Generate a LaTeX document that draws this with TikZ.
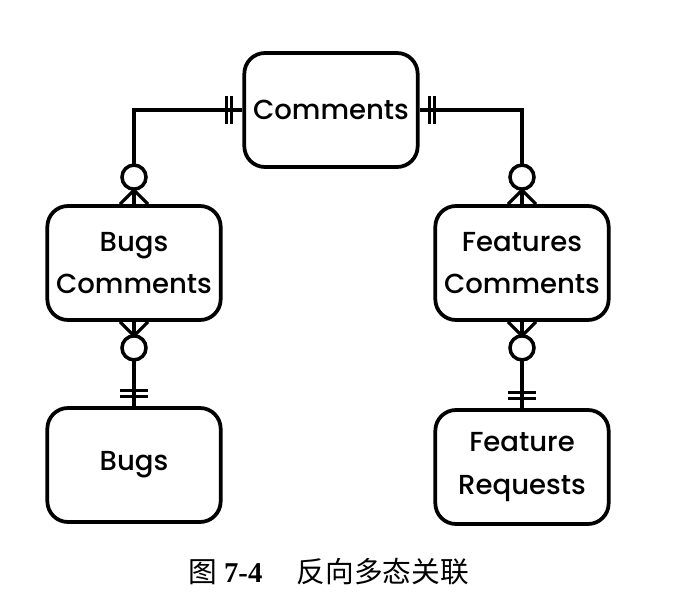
\documentclass[tikz,border=0pt]{standalone}
\usepackage{fontspec}
\setsansfont{Poppins}[UprightFont=* Medium]
\newfontfamily\cjk{Noto Sans CJK SC}
\newfontfamily\capnum{Liberation Serif}
\usetikzlibrary{calc}
\tikzset{
>=latex,
entity/.style={draw, line width=3.2pt, rounded corners=0.62cm,
  minimum width=5.2cm, minimum height=3.42cm, align=center,
  font=\sffamily\fontsize{23.5}{36}\selectfont},
link/.style={line width=3.2pt},
bars/.style={line width=2.4pt},
ring/.style={draw, fill=white, line width=3pt, circle, minimum size=0.72cm, inner sep=0pt}
}

\begin{document}
\begin{tikzpicture}[x=0.03cm, y=-0.03cm]
 \useasboundingbox (0,0) rectangle (692,614);
 % entities
 \node[entity] (comments) at (331,110) {Comments};
 \node[entity] (bugscomm) at (134,263) {Bugs\\Comments};
 \node[entity] (featcomm) at (522,263) {Features\\Comments};
 \node[entity] (bugs) at (134,465) {Bugs};
 \node[entity] (featreq) at (522,467) {Feature\\Requests};
 % connectors
 \draw[link] (comments.west) -| (bugscomm.north);
 \draw[link] (comments.east) -| (featcomm.north);
 \draw[link] (bugscomm.south) -- (bugs.north);
 \draw[link] (featcomm.south) -- (featreq.north);
 % one-and-only-one bars
 \draw[bars] ($(comments.west)+(-11,-14)$) -- ++(0,28)
             ($(comments.west)+(-16,-14)$) -- ++(0,28);
 \draw[bars] ($(comments.east)+(10,-14)$) -- ++(0,28)
             ($(comments.east)+(15,-14)$) -- ++(0,28);
 \draw[bars] ($(bugs.north)+(-14,-10)$) -- ++(28,0)
             ($(bugs.north)+(-14,-16)$) -- ++(28,0);
 \draw[bars] ($(featreq.north)+(-14,-10)$) -- ++(28,0)
             ($(featreq.north)+(-14,-16)$) -- ++(28,0);
 % zero-or-many crow's feet
 \draw[link, line width=2.6pt] ($(bugscomm.north)+(0,-14)$) coordinate (bc1)
   -- ++(-14,14) (bc1) -- ++(14,14);
 \draw[link, line width=2.6pt] ($(featcomm.north)+(0,-14)$) coordinate (fc1)
   -- ++(-14,14) (fc1) -- ++(14,14);
 \draw[link, line width=2.6pt] ($(bugscomm.south)+(0,14)$) coordinate (bc2)
   -- ++(-14,-14) (bc2) -- ++(14,-14);
 \draw[link, line width=2.6pt] ($(featcomm.south)+(0,14)$) coordinate (fc2)
   -- ++(-14,-14) (fc2) -- ++(14,-14);
 \node[ring] at ($(bugscomm.north)+(0,-27)$) {};
 \node[ring] at ($(featcomm.north)+(0,-27)$) {};
 \node[ring] at ($(bugscomm.south)+(0,26)$) {};
 \node[ring] at ($(featcomm.south)+(0,26)$) {};
 % caption
 \node[font=\fontsize{24.5}{26}\selectfont] (caption) at (329,572)
   {\cjk 图\ {\capnum\bfseries 7-4}\hspace{1.2em}反向多态关联};
\end{tikzpicture}
\end{document}
